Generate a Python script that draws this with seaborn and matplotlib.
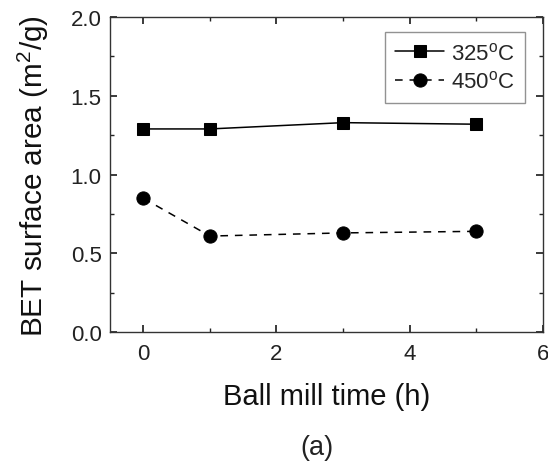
import matplotlib
matplotlib.use("Agg")
import matplotlib.pyplot as plt
import seaborn as sns
import pandas as pd
from matplotlib.ticker import MultipleLocator, FormatStrFormatter

time_h = [0, 1, 3, 5]
s325 = [1.29, 1.29, 1.33, 1.32]
s450 = [0.85, 0.61, 0.63, 0.64]
labels = ["325$^{\\rm o}$C", "450$^{\\rm o}$C"]

sns.set_theme(style="ticks")
plt.rcParams['font.family'] = ['Liberation Sans', 'DejaVu Sans']
plt.rcParams['mathtext.fontset'] = 'custom'
plt.rcParams['mathtext.rm'] = 'Liberation Sans'

df = pd.DataFrame({
    "t": time_h * 2,
    "v": s325 + s450,
    "s": [labels[0]] * 4 + [labels[1]] * 4,
})

fig = plt.figure(figsize=(5.48, 4.64), dpi=100)
ax = fig.add_axes([0.2007, 0.282, 0.790, 0.679])
sns.lineplot(data=df, x="t", y="v", hue="s", style="s",
             palette=["black", "black"], markers=["s", "o"],
             dashes=[(None, None), (5, 4.5)], markersize=8.3, linewidth=1.1,
             markeredgecolor="black", ax=ax)
for ln in ax.lines:
    if ln.get_marker() == "o":
        ln.set_markersize(9.5)
ax.set_xlim(-0.5, 6)
ax.set_ylim(0, 2.0)
ax.xaxis.set_major_locator(MultipleLocator(2))
ax.xaxis.set_minor_locator(MultipleLocator(1))
ax.yaxis.set_major_locator(MultipleLocator(0.5))
ax.yaxis.set_minor_locator(MultipleLocator(0.25))
ax.yaxis.set_major_formatter(FormatStrFormatter('%.1f'))
ax.tick_params(which="both", direction="in", top=True, right=True,
               labelsize=16, colors="#222222")
ax.tick_params(axis="x", which="major", pad=8)
ax.tick_params(axis="y", which="major", pad=6)
ax.tick_params(which="major", length=5)
ax.tick_params(which="minor", length=3)
for sp in ax.spines.values():
    sp.set_color("#333333")
    sp.set_linewidth(1.0)
ax.set_xlabel("Ball mill time (h)", fontsize=21, labelpad=13, color="#111111")
ax.set_ylabel("BET surface area (m$^2$/g)", fontsize=21.4, labelpad=14, color="#111111")
leg = ax.legend(title=None, loc="upper right", fontsize=16, frameon=True,
                fancybox=False, edgecolor="#777777", handlelength=2.2,
                borderpad=0.45, labelspacing=0.3, handletextpad=0.3,
                borderaxespad=0, bbox_to_anchor=(0.958, 0.952))
leg.get_frame().set_linewidth(1.0)
for h in leg.legend_handles:
    if h.get_marker() == "o":
        h.set_markersize(9.5)
fig.text(0.578, 0.02, "(a)", fontsize=19.5, ha="center", color="#222222")
fig.savefig("out.png", dpi=100)
